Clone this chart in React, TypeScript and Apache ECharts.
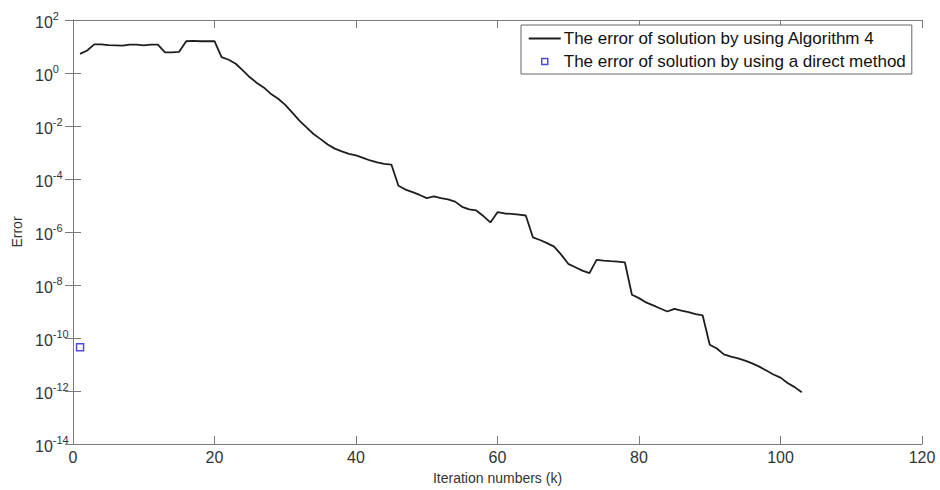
import React, { useEffect, useRef } from "react";
import * as echarts from "echarts";

// Error of solution by Algorithm 4 at iterations k = 1..103
const algorithmErrors: number[] = [
  5.25, 7.1, 12.0, 12.0, 11.2, 11.0, 10.7, 11.7, 11.7, 11.0,
  11.7, 11.7, 6.0, 6.0, 6.3, 15.8, 16.2, 15.8, 15.8, 15.8,
  3.98, 3.16, 2.24, 1.26, 0.69, 0.42, 0.28, 0.16, 0.107, 0.063,
  0.032, 0.016, 8.9e-3, 5.0e-3, 3.2e-3, 2.0e-3, 1.4e-3, 1.1e-3, 8.9e-4, 7.8e-4,
  6.3e-4, 5.0e-4, 4.2e-4, 3.7e-4, 3.5e-4, 5.6e-5, 4.0e-5, 3.2e-5, 2.5e-5, 1.9e-5,
  2.2e-5, 1.9e-5, 1.7e-5, 1.4e-5, 8.9e-6, 7.1e-6, 6.5e-6, 4.0e-6, 2.3e-6, 5.6e-6,
  5.0e-6, 4.8e-6, 4.5e-6, 4.2e-6, 6.3e-7, 5.0e-7, 3.8e-7, 2.8e-7, 1.4e-7, 6.3e-8,
  4.7e-8, 3.5e-8, 2.8e-8, 8.9e-8, 8.3e-8, 7.9e-8, 7.6e-8, 7.2e-8, 4.3e-9, 3.2e-9,
  2.2e-9, 1.7e-9, 1.3e-9, 1.0e-9, 1.26e-9, 1.07e-9, 9.5e-10, 7.9e-10, 7.1e-10, 5.6e-11,
  4.0e-11, 2.4e-11, 2.0e-11, 1.7e-11, 1.4e-11, 1.1e-11, 8.3e-12, 5.9e-12, 4.2e-12, 3.2e-12,
  2.0e-12, 1.4e-12, 8.9e-13,
];

// Error of solution by a direct method (single point)
const directIteration = [1];
const directErrors = [4.5e-11];

const seriesNames = [
  "The error of solution by using Algorithm 4",
  "The error of solution by using a direct method",
];

const xTicks = { min: 0, max: 120, interval: 20 };
const yTicks = { min: 1e-14, max: 1e2 };

const FONT = 'Arial, "Liberation Sans", sans-serif';

export default function App() {
  const ref = useRef<HTMLDivElement>(null);

  useEffect(() => {
    if (!ref.current) return;
    const chart = echarts.init(ref.current, null, { renderer: "svg" });

    const lineData = algorithmErrors.map((v, i) => [i + 1, v]);
    const directData = directIteration.map((k, i) => [k, directErrors[i]]);

    const axisColor = "#7a7a7a";
    const labelColor = "#333";

    const yLabel = (value: number) => {
      const e = Math.round(Math.log10(value));
      return `{b|10}{s|${e}}`;
    };

    chart.setOption({
      animation: false,
      backgroundColor: "#ffffff",
      textStyle: { fontFamily: FONT },
      grid: { left: 73, right: 18, top: 20, bottom: 46, containLabel: false },
      legend: {
        orient: "vertical",
        left: 521,
        top: 25,
        padding: [5, 6, 4, 7],
        itemGap: 6,
        itemWidth: 32,
        itemHeight: 14,
        borderColor: "#666",
        borderWidth: 1,
        backgroundColor: "#fff",
        borderRadius: 0,
        textStyle: { fontSize: 17, color: "#111", fontFamily: FONT, padding: [0, 0, 0, -2] },
        data: [
          {
            name: seriesNames[0],
            icon: "path://M0,6.1H32V7.9H0Z",
            itemStyle: { color: "#1e1e1e", borderWidth: 0 },
          },
          {
            name: seriesNames[1],
            icon: "path://M0,0M32,14M13,4H19V10H13Z",
            itemStyle: { color: "transparent", borderColor: "#2020d0", borderWidth: 1.5 },
          },
        ],
      },
      xAxis: [
        {
          type: "value",
          min: xTicks.min,
          max: xTicks.max,
          interval: xTicks.interval,
          position: "bottom",
          name: "Iteration numbers (k)",
          nameLocation: "middle",
          nameGap: 27,
          nameTextStyle: { fontSize: 14, color: labelColor, fontFamily: FONT },
          axisLine: { show: true, lineStyle: { color: axisColor, width: 1 } },
          axisTick: { show: true, inside: true, length: 8, lineStyle: { color: axisColor } },
          axisLabel: { fontSize: 16, color: labelColor, margin: 5, fontFamily: FONT },
          splitLine: { show: false },
        },
        {
          type: "value",
          min: xTicks.min,
          max: xTicks.max,
          interval: xTicks.interval,
          position: "top",
          axisLine: { show: true, lineStyle: { color: axisColor, width: 1 } },
          axisTick: { show: true, inside: true, length: 8, lineStyle: { color: axisColor } },
          axisLabel: { show: false },
          splitLine: { show: false },
        },
      ],
      yAxis: [
        {
          type: "log",
          logBase: 10,
          min: yTicks.min,
          max: yTicks.max,
          interval: 2,
          position: "left",
          name: "Error",
          nameLocation: "middle",
          nameGap: 49,
          nameTextStyle: { fontSize: 14, color: labelColor, fontFamily: FONT },
          axisLine: { show: true, lineStyle: { color: axisColor, width: 1 } },
          axisTick: { show: true, inside: true, length: 8, lineStyle: { color: axisColor } },
          axisLabel: {
            margin: 38,
            align: "left",
            formatter: yLabel,
            rich: {
              b: { fontSize: 16, color: labelColor, fontFamily: FONT, padding: [4, 0, 0, 0] },
              s: { fontSize: 11, color: labelColor, fontFamily: FONT, verticalAlign: "top", padding: [0, 0, 8, 0] },
            },
          },
          splitLine: { show: false },
          minorTick: { show: false },
        },
        {
          type: "log",
          logBase: 10,
          min: yTicks.min,
          max: yTicks.max,
          interval: 2,
          position: "right",
          axisLine: { show: true, lineStyle: { color: axisColor, width: 1 } },
          axisTick: { show: true, inside: true, length: 8, lineStyle: { color: axisColor } },
          axisLabel: { show: false },
          splitLine: { show: false },
        },
      ],
      series: [
        {
          name: seriesNames[0],
          type: "line",
          data: lineData,
          symbol: "none",
          showSymbol: false,
          lineStyle: { color: "#1e1e1e", width: 1.8 },
          itemStyle: { color: "#1e1e1e" },
          xAxisIndex: 0,
          yAxisIndex: 0,
          z: 3,
        },
        {
          name: seriesNames[1],
          type: "scatter",
          data: directData,
          symbol: "rect",
          symbolSize: 7,
          itemStyle: { color: "#ffffff", borderColor: "#2020d0", borderWidth: 1.5 },
          xAxisIndex: 0,
          yAxisIndex: 0,
          z: 4,
        },
      ],
    });

    return () => chart.dispose();
  }, []);

  return (
    <div
      ref={ref}
      style={{ position: "fixed", left: 0, top: 0, width: 940, height: 490, background: "#fff" }}
    />
  );
}
